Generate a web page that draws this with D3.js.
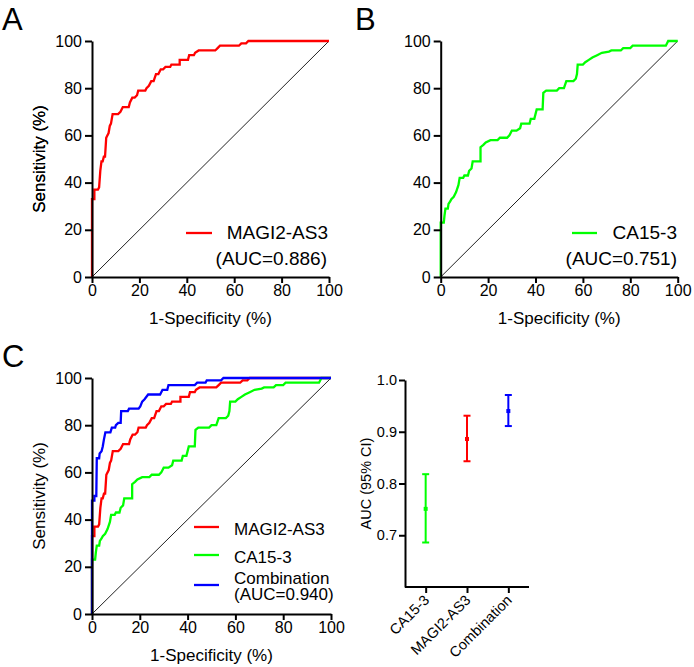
<!DOCTYPE html>
<html>
<head>
<meta charset="utf-8">
<script src="https://cdn.jsdelivr.net/npm/d3@7"></script>
<style>
  body { margin: 0; background: #fff; }
  svg { font-family: 'Liberation Sans', Arial, sans-serif; }
  .axis path, .axis line { stroke: #000; stroke-width: 2; }
  .axis text { fill: #000; }
</style>
</head>
<body>
<svg id="chart" width="694" height="667"></svg>
<script>
// ROC curve vertices, [1-specificity %, sensitivity %]
const magiRoc = [
  [0, 0], [0, 33], [1, 33], [1, 37], [2.5, 37], [3, 38], [3.5, 45], [4, 49], [4.5, 49],
  [5, 51], [5.5, 51], [6, 59], [7, 61], [7.5, 64], [8, 65], [8.7, 69], [11, 69], [12, 70],
  [13, 72], [15.5, 72], [16, 74], [17, 76], [18, 76], [19, 77], [19.5, 79], [22.5, 79],
  [23, 80], [24, 81], [25, 83], [26, 83], [27, 86], [28, 86], [29, 88], [30, 88], [31, 89],
  [33, 89], [33.5, 90], [37, 90], [37, 92], [40.5, 92], [41, 94], [43, 94], [43.5, 95],
  [45, 96], [52, 96], [53, 97], [54, 98], [62, 98], [63, 99], [65, 99], [66, 100], [100, 100]
]
const ca153Roc = [
  [0, 0], [0, 23], [1.3, 23], [1.6, 26], [2, 29], [3, 29], [3.3, 31], [4, 32], [4.5, 33],
  [5.5, 34], [6.5, 36], [7.5, 39], [8, 42], [9.5, 42], [10, 43], [11.5, 43], [12, 45],
  [13, 46], [13.5, 49], [16.8, 49], [16.8, 55], [18, 56], [19, 57], [21, 58], [24, 58],
  [25, 59], [28, 59], [29, 60], [30, 62], [32, 62], [33.5, 63], [34, 65], [37.5, 65],
  [38, 67], [39.5, 67], [40.5, 71], [43, 71], [43.3, 78], [44.5, 79], [49, 79], [50, 80],
  [52, 80], [53, 83], [56, 83], [57, 84], [57.5, 86], [57.8, 90], [60, 90], [61, 91],
  [62.5, 92], [64, 93], [66, 94], [68, 95], [71, 95.5], [72, 96], [76, 96], [77, 97],
  [80, 97], [81, 98], [95, 98], [96, 100], [100, 100]
]
const comboRoc = [
  [0, 0], [0, 48], [1, 48], [1, 50], [1.8, 50], [2, 66], [3, 66], [3.2, 68], [4, 69],
  [4.5, 71], [5, 74], [5.6, 77], [7.7, 77], [8.3, 79], [9.7, 79], [10, 80], [11, 81],
  [12, 81], [12.2, 86], [15, 86], [15.5, 87], [19.5, 87], [20.2, 88], [21, 90], [22, 91],
  [23.5, 93], [28.5, 93], [29.5, 95], [31.5, 95], [32, 97], [43, 97], [44, 98], [47.5, 98],
  [48, 99], [54, 99], [55, 100], [100, 100]
]

// AUC with 95% CI
const aucCategories = ['CA15-3', 'MAGI2-AS3', 'Combination']
const aucValues = [0.751, 0.886, 0.940]
const aucLower = [0.686, 0.843, 0.911]
const aucUpper = [0.818, 0.931, 0.971]
const aucColors = ['#00ff00', '#ff0000', '#0000ff']

const rocTicks = [0, 20, 40, 60, 80, 100]
const aucTicks = [0.7, 0.8, 0.9, 1.0]

const RED = '#ff0000'
const GREEN = '#00ff00'
const BLUE = '#0000ff'

const svg = d3.select('#chart')

function rocPanel(x0, x1, y0, y1, curves) {
  const x = d3.scaleLinear().domain([0, 100]).range([x0, x1])
  const y = d3.scaleLinear().domain([0, 100]).range([y0, y1])

  const g = svg.append('g')

  // reference diagonal
  g.append('line')
    .attr('x1', x(0)).attr('y1', y(0))
    .attr('x2', x(100)).attr('y2', y(100))
    .attr('stroke', '#222')
    .attr('stroke-width', 1)

  const line = d3.line().x((d) => x(d[0])).y((d) => y(d[1]))
  curves.forEach((c) => {
    g.append('path')
      .datum(c.data)
      .attr('d', line)
      .attr('fill', 'none')
      .attr('stroke', c.color)
      .attr('stroke-width', 2.3)
  })

  g.append('g')
    .attr('class', 'axis')
    .attr('transform', `translate(0,${y0})`)
    .call(d3.axisBottom(x).tickValues(rocTicks).tickSize(6).tickSizeOuter(0).tickPadding(2))
    .attr('font-size', 16)
    .attr('font-family', null)

  g.append('g')
    .attr('class', 'axis')
    .attr('transform', `translate(${x0},0)`)
    .call(d3.axisLeft(y).tickValues(rocTicks).tickSize(7).tickSizeOuter(0).tickPadding(3))
    .attr('font-size', 16)
    .attr('font-family', null)

  g.append('text')
    .attr('transform', `translate(45,${(y0 + y1) / 2}) rotate(-90)`)
    .attr('text-anchor', 'middle')
    .attr('font-size', 17)
    .text('Sensitivity (%)')

  g.append('text')
    .attr('x', (x0 + x1) / 2)
    .attr('y', y0 + 47)
    .attr('text-anchor', 'middle')
    .attr('font-size', 17)
    .text('1-Specificity (%)')

  return { x, y }
}

function panelLabel(text, x, y) {
  svg.append('text')
    .attr('x', x)
    .attr('y', y)
    .attr('font-size', 31)
    .text(text)
}

function legendLine(x1, x2, y, color) {
  svg.append('line')
    .attr('x1', x1).attr('x2', x2)
    .attr('y1', y).attr('y2', y)
    .attr('stroke', color)
    .attr('stroke-width', 2.3)
}

function legendText(text, x, y, size, anchor) {
  svg.append('text')
    .attr('x', x)
    .attr('y', y)
    .attr('font-size', size)
    .attr('text-anchor', anchor)
    .text(text)
}

// Panel A
panelLabel('A', 2, 30)
rocPanel(92, 329, 277, 41, [{ data: magiRoc, color: RED }])
legendLine(186, 212, 233, RED)
legendText('MAGI2-AS3', 328, 239, 19, 'end')
legendText('(AUC=0.886)', 327, 265, 19, 'end')

// Panel B
panelLabel('B', 355, 30)
rocPanel(440.7, 677.7, 277, 41, [{ data: ca153Roc, color: GREEN }])
legendLine(572, 597, 233, GREEN)
legendText('CA15-3', 677, 239, 19, 'end')
legendText('(AUC=0.751)', 677, 265, 19, 'end')

// Panel C
panelLabel('C', 2, 367)
rocPanel(92, 331, 614, 378, [
  { data: magiRoc, color: RED },
  { data: ca153Roc, color: GREEN },
  { data: comboRoc, color: BLUE },
])
legendLine(194, 219, 527, RED)
legendLine(194, 219, 555, GREEN)
legendLine(194, 219, 585, BLUE)
legendText('MAGI2-AS3', 234, 535, 17, 'start')
legendText('CA15-3', 234, 563, 17, 'start')
legendText('Combination', 234, 584, 17, 'start')
legendText('(AUC=0.940)', 234, 600, 17, 'start')

// Panel D: AUC (95% CI)
const dx = d3.scalePoint().domain(aucCategories).range([405, 529]).padding(0.5)
const dy = d3.scaleLinear().domain([0.6, 1.0]).range([587, 380])
const dg = svg.append('g')

aucCategories.forEach((c, i) => {
  const cx = dx(c)
  const col = aucColors[i]
  dg.append('line')
    .attr('x1', cx).attr('x2', cx)
    .attr('y1', dy(aucLower[i])).attr('y2', dy(aucUpper[i]))
    .attr('stroke', col).attr('stroke-width', 2)
  ;[aucLower[i], aucUpper[i]].forEach((v) => {
    dg.append('line')
      .attr('x1', cx - 3.5).attr('x2', cx + 3.5)
      .attr('y1', dy(v)).attr('y2', dy(v))
      .attr('stroke', col).attr('stroke-width', 2)
  })
  dg.append('rect')
    .attr('x', cx - 2).attr('y', dy(aucValues[i]) - 2)
    .attr('width', 4).attr('height', 4)
    .attr('fill', col)
})

dg.append('g')
  .attr('class', 'axis')
  .attr('transform', 'translate(405,0)')
  .call(d3.axisLeft(dy).tickValues(aucTicks).tickFormat(d3.format('.1f')).tickSize(6).tickSizeOuter(0).tickPadding(2))
  .attr('font-size', 14.5)
  .attr('font-family', null)

const xAxisD = dg.append('g')
  .attr('class', 'axis')
  .attr('transform', 'translate(0,587)')
  .call(d3.axisBottom(dx).tickSize(6).tickSizeOuter(0))
  .attr('font-size', 14.5)
  .attr('font-family', null)

xAxisD.select('.domain').attr('d', 'M405,0H529')
xAxisD.selectAll('text')
  .attr('text-anchor', 'end')
  .attr('dy', null)
  .attr('y', 0)
  .attr('transform', 'translate(4,14) rotate(-45)')

dg.append('text')
  .attr('transform', `translate(371,${(380 + 587) / 2}) rotate(-90)`)
  .attr('text-anchor', 'middle')
  .attr('font-size', 14.5)
  .text('AUC (95% CI)')
</script>
</body>
</html>
